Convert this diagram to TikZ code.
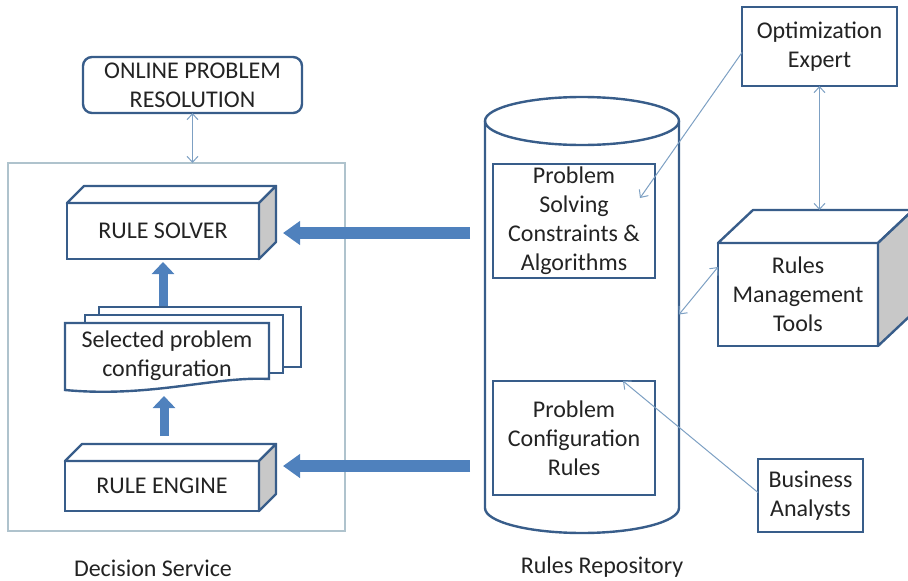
\documentclass[tikz,border=0pt]{standalone}
\usepackage{fontspec}
\setmainfont{Carlito}
\usetikzlibrary{arrows.meta}

\definecolor{edgeblue}{RGB}{56,93,138}
\definecolor{fillblue}{RGB}{79,129,189}
\definecolor{thinblue}{RGB}{125,160,195}
\definecolor{framegray}{RGB}{175,195,205}
\definecolor{sidegray}{RGB}{200,200,200}
\definecolor{txt}{RGB}{35,35,35}

% top and side faces of a box node
\newcommand{\cubefaces}[3]{%
  \draw[face] (#1.north west) -- ++(#2pt,#3pt) -- ([shift={(#2pt,#3pt)}]#1.north east) -- (#1.north east) -- cycle;
  \draw[face, fill=sidegray] (#1.north east) -- ++(#2pt,#3pt) -- ([shift={(#2pt,#3pt)}]#1.south east) -- (#1.south east) -- cycle;}

\begin{document}
\begin{tikzpicture}[x=1pt, y=1pt,
  box/.style={draw=edgeblue, line width=2.4pt, fill=white, outer sep=0pt, inner sep=0pt,
    align=center, text=txt, font=\fontsize{24}{29}\selectfont},
  face/.style={draw=edgeblue, line width=2.4pt, fill=white, line join=round},
  sheet/.style={draw=edgeblue, line width=2.4pt, fill=white},
  cyl/.style={draw=edgeblue, line width=2.4pt},
  frame/.style={draw=framegray, line width=1.3pt, outer sep=0pt},
  caption/.style={text=txt, font=\fontsize{24}{29}\selectfont},
  link/.style={thinblue, line width=1pt},
  uparrow/.style={fillblue, line width=9pt, -{Triangle[length=12pt,width=22pt]}},
  bigarrow/.style={fillblue, line width=12pt, -{Triangle[length=17pt,width=23pt]}},
  >={Straight Barb[length=6pt,width=11pt]}]
\useasboundingbox (0,0) rectangle (908,-581);

% decision service
\node (dsframe) [frame, minimum width=337pt, minimum height=368pt] at (176.5,-347) {};
\node (online) [box, rounded corners=9pt, minimum width=219pt, minimum height=56pt] at (192.5,-85) {ONLINE PROBLEM\\RESOLUTION};
\draw[link,<->] (online.south) -- (online.south |- dsframe.north);

\node (solver) [box, minimum width=192pt, minimum height=56pt] at (163,-231) {RULE SOLVER};
\cubefaces{solver}{17}{17}
\node (engine) [box, minimum width=194pt, minimum height=50pt] at (162,-486) {RULE ENGINE};
\cubefaces{engine}{17}{17}

\draw[sheet] (99,-307) rectangle (301,-367);
\draw[sheet] (85,-315) rectangle (283,-373);
\draw[sheet] (65,-323) -- (269,-323) -- (269,-379) .. controls (215,-376) and (150,-398) .. (65,-390) -- cycle;
\node (selcfg) [minimum width=204pt, minimum height=66pt, outer sep=0pt, align=center, caption] at (167,-356) {Selected problem\\configuration};

\draw[uparrow] ([shift={(2pt,25pt)}]engine.north) -- ([shift={(2pt,-7pt)}]engine.north |- selcfg.south);
\draw[uparrow] ([yshift=17pt]solver.south |- selcfg.north) -- ([yshift=-3pt]solver.south);

% rules repository
\draw[cyl] (485,-121) -- (485,-508) arc[start angle=180, end angle=360, x radius=97pt, y radius=25pt] -- (679,-121);
\draw[cyl] (582,-121) ellipse [x radius=97pt, y radius=24pt];
\node (repo) [minimum width=194pt, minimum height=437pt, outer sep=0pt] at (582,-314.5) {};

\node (pscb) [box, minimum width=162pt, minimum height=114pt] at (574,-221) {Problem\\Solving\\Constraints \&\\Algorithms};
\node (pcr) [box, minimum width=162pt, minimum height=114pt] at (574,-438) {Problem\\Configuration\\Rules};

\path (repo.west |- solver.east) ++(-15pt,-2pt) coordinate (fromS);
\path ([shift={(24pt,-2pt)}]solver.east) coordinate (toS);
\path (repo.west |- engine.east) ++(-15pt,20pt) coordinate (fromE);
\path ([shift={(24pt,20pt)}]engine.east) coordinate (toE);
\draw[bigarrow] (fromS) -- (toS);
\draw[bigarrow] (fromE) -- (toE);

% people and tools
\node (opt) [box, minimum width=155pt, minimum height=79pt] at (819.5,-46.5) {Optimization\\Expert};
\node (rmt) [box, minimum width=160pt, minimum height=103pt] at (798,-294.5) {Rules\\Management\\Tools};
\cubefaces{rmt}{35}{33}
\node (ba) [box, minimum width=105pt, minimum height=73pt] at (810.5,-495.5) {Business\\Analysts};

\coordinate (psin) at ([shift={(66pt,23pt)}]pscb.center);
\coordinate (rmtback) at ([yshift=33pt]rmt.north);
\draw[link,->] ([yshift=-6pt]opt.west) -- (psin);
\draw[link,<->] (opt.south) -- (opt.south |- rmtback);
\draw[link,<->] ([yshift=-24pt]rmt.north west) -- (repo.east);
\draw[link,->] ([yshift=3pt]ba.west) -- ([xshift=49pt]pcr.north);

\node (dslabel) [caption] at (153,-568) {Decision Service};
\node (rrlabel) [caption] at (602,-567) {Rules Repository};
\end{tikzpicture}
\end{document}
